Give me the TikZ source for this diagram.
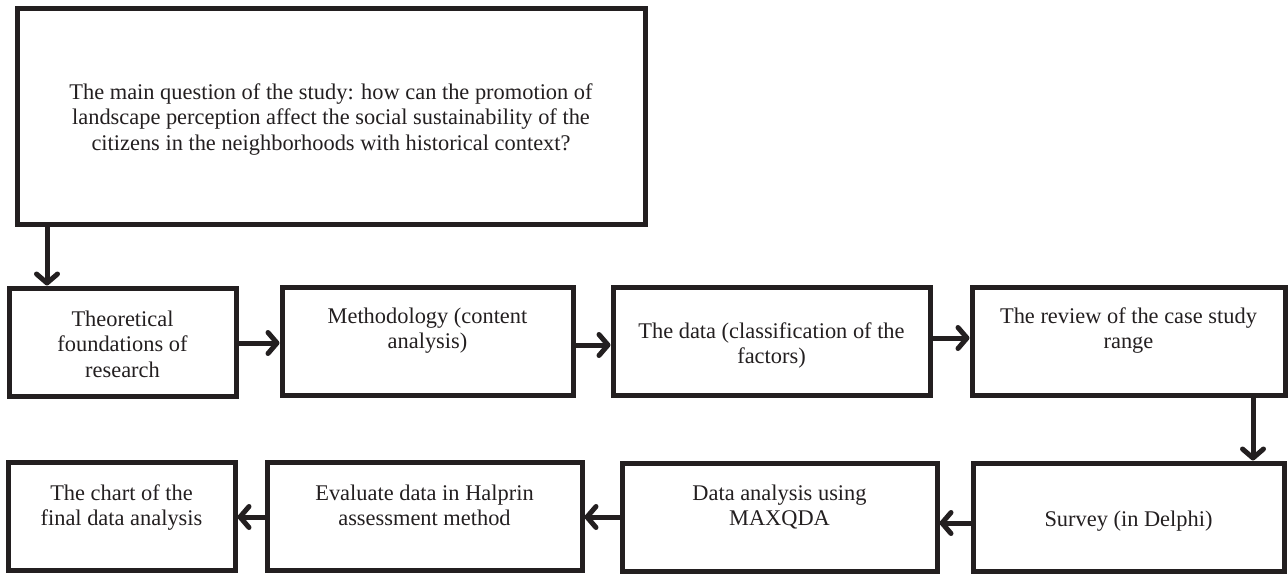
\documentclass[tikz,border=0pt]{standalone}
\usepackage{fontspec}
\setmainfont{Liberation Serif}
\usetikzlibrary{arrows.meta}
\definecolor{ink}{HTML}{231F20}
\newcommand\bxt[4]{\parbox[c][#3][t]{#2}{\centering\rule{0pt}{#1}#4}}
\tikzset{
  stepbox/.style={draw=ink, line width=5pt, inner sep=0pt, fill=white, text=ink,
    font=\fontsize{22.4}{25.5}\selectfont},
  arr/.style={draw=ink, line width=5pt, line cap=round,
    -{Straight Barb[length=9pt,width=21pt,line cap=round,line join=round]}}
}
\begin{document}
\begin{tikzpicture}[x=1pt,y=-1pt]
\useasboundingbox (0,0) rectangle (1288,574);
\node[stepbox] (top) at (331,116) {\bxt{91pt}{628pt}{216pt}{The main question of the study: how can the promotion of\\landscape perception affect the social sustainability of the\\citizens in the neighborhoods with historical context?}};
\node[stepbox] (b1) at (122.5,342) {\bxt{38pt}{227pt}{108pt}{Theoretical\\foundations of\\research}};
\node[stepbox] (b2) at (427.5,341) {\bxt{36pt}{291pt}{108pt}{Methodology (content\\analysis)}};
\node[stepbox] (b3) at (771.5,341) {\bxt{51pt}{317pt}{108pt}{The data (classification of the\\factors)}};
\node[stepbox] (b4) at (1128.5,341) {\bxt{36pt}{313pt}{108pt}{The review of the case study\\range}};
\node[stepbox] (b5) at (121.5,516) {\bxt{38pt}{227pt}{108pt}{The chart of the\\final data analysis}};
\node[stepbox] (b6) at (424.5,516) {\bxt{38pt}{315pt}{108pt}{Evaluate data in Halprin\\assessment method}};
\node[stepbox] (b7) at (779.5,517) {\bxt{37pt}{315pt}{108pt}{Data analysis using\\MAXQDA}};
\node[stepbox] (b8) at (1128.5,517) {\bxt{63pt}{311pt}{108pt}{Survey (in Delphi)}};
\coordinate (v1) at (47,0);
\coordinate (h12) at (0,343);
\coordinate (h23) at (0,345);
\coordinate (h34) at (0,338);
\coordinate (v48) at (1253,0);
\coordinate (h87) at (0,523);
\coordinate (h76) at (0,517);
\coordinate (h65) at (0,517);
\draw[arr] (top.south -| v1) -- (b1.north -| v1);
\draw[arr] (b1.east |- h12) -- (b2.west |- h12);
\draw[arr] (b2.east |- h23) -- (b3.west |- h23);
\draw[arr] (b3.east |- h34) -- (b4.west |- h34);
\draw[arr] (b4.south -| v48) -- (b8.north -| v48);
\draw[arr] (b8.west |- h87) -- (b7.east |- h87);
\draw[arr] (b7.west |- h76) -- (b6.east |- h76);
\draw[arr] (b6.west |- h65) -- (b5.east |- h65);
\end{tikzpicture}
\end{document}
